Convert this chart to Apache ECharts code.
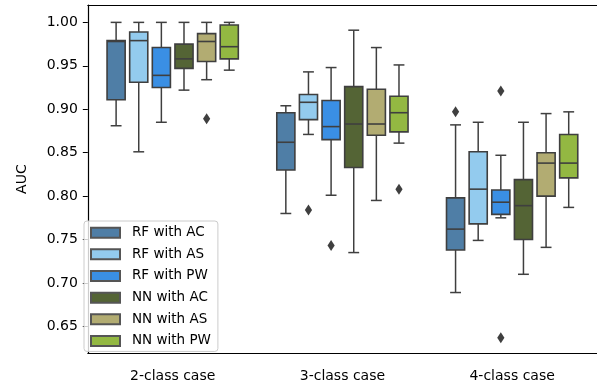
<!DOCTYPE html>
<html>
<head>
    <title>AUC boxplot</title>
    <script src="https://cdn.jsdelivr.net/npm/echarts@6/dist/echarts.min.js"></script>
</head>
<body style="margin:0">
    <div id="chart" style="width: 597px; height: 390px;"></div>
    <script>
        const categories = ['2-class case', '3-class case', '4-class case'];
        const hues = ['RF with AC', 'RF with AS', 'RF with PW', 'NN with AC', 'NN with AS', 'NN with PW'];
        const colors = ['#4f7ea6', '#93cbee', '#3a8fe4', '#546435', '#b2ac72', '#93b842'];
        const yTicks = [0.65, 0.70, 0.75, 0.80, 0.85, 0.90, 0.95, 1.00];

        // [low whisker, Q1, median, Q3, high whisker] per category
        const rfAC = [[0.881, 0.911, 0.978, 0.979, 1.000], [0.780, 0.830, 0.862, 0.896, 0.904], [0.689, 0.738, 0.762, 0.798, 0.882]];
        const rfAS = [[0.851, 0.931, 0.979, 0.989, 1.000], [0.871, 0.888, 0.908, 0.917, 0.943], [0.749, 0.768, 0.808, 0.851, 0.885]];
        const rfPW = [[0.885, 0.925, 0.939, 0.971, 1.000], [0.801, 0.865, 0.880, 0.910, 0.948], [0.775, 0.779, 0.793, 0.807, 0.847]];
        const nnAC = [[0.922, 0.947, 0.958, 0.975, 1.000], [0.735, 0.833, 0.883, 0.926, 0.991], [0.710, 0.750, 0.789, 0.819, 0.885]];
        const nnAS = [[0.934, 0.955, 0.978, 0.987, 1.000], [0.795, 0.870, 0.883, 0.923, 0.971], [0.741, 0.800, 0.838, 0.850, 0.895]];
        const nnPW = [[0.945, 0.958, 0.972, 0.997, 1.000], [0.861, 0.874, 0.896, 0.915, 0.951], [0.787, 0.821, 0.838, 0.871, 0.897]];
        const stats = [rfAC, rfAS, rfPW, nnAC, nnAS, nnPW];

        // outliers: [category index, value, hue index]
        const outliers = [
            [0, 0.889, 4],
            [1, 0.784, 1],
            [1, 0.743, 2],
            [1, 0.808, 5],
            [2, 0.897, 0],
            [2, 0.921, 2],
            [2, 0.637, 2]
        ];

        const edge = '#3f3f3f';
        const font = 'DejaVu Sans';

        function hueX(api, cat, hue) {
            const center = api.coord([cat, 0.8])[0];
            const band = api.size([1, 0])[0];
            const slot = band * 0.8 / hues.length;
            return { cx: center + (hue - (hues.length - 1) / 2) * slot, slot: slot };
        }

        function boxRenderer(hue) {
            return function (params, api) {
                const cat = api.value(0);
                const pos = hueX(api, cat, hue);
                const w = pos.slot * 0.8;
                const cap = w * 0.6;
                const y = i => api.coord([cat, api.value(i)])[1];
                const low = y(1), q1 = y(2), med = y(3), q3 = y(4), high = y(5);
                const line = { stroke: edge, lineWidth: 1.5 };
                return {
                    type: 'group',
                    children: [
                        { type: 'line', shape: { x1: pos.cx, y1: q1, x2: pos.cx, y2: low }, style: line },
                        { type: 'line', shape: { x1: pos.cx, y1: q3, x2: pos.cx, y2: high }, style: line },
                        { type: 'line', shape: { x1: pos.cx - cap / 2, y1: low, x2: pos.cx + cap / 2, y2: low }, style: line },
                        { type: 'line', shape: { x1: pos.cx - cap / 2, y1: high, x2: pos.cx + cap / 2, y2: high }, style: line },
                        { type: 'rect', shape: { x: pos.cx - w / 2, y: q3, width: w, height: q1 - q3 },
                          style: { fill: colors[hue], stroke: edge, lineWidth: 1.6 } },
                        { type: 'line', shape: { x1: pos.cx - w / 2, y1: med, x2: pos.cx + w / 2, y2: med },
                          style: { stroke: edge, lineWidth: 1.6 } }
                    ]
                };
            };
        }

        const series = hues.map((name, h) => ({
            name: name,
            type: 'custom',
            renderItem: boxRenderer(h),
            itemStyle: { color: colors[h], borderColor: '#555', borderWidth: 0.6 },
            encode: { x: 0, y: [1, 2, 3, 4, 5] },
            data: stats[h].map((s, c) => [c].concat(s)),
            silent: true
        }));

        series.push({
            type: 'custom',
            renderItem: function (params, api) {
                const cat = api.value(0);
                const pos = hueX(api, cat, api.value(2));
                const yy = api.coord([cat, api.value(1)])[1];
                return {
                    type: 'polygon',
                    shape: { points: [[pos.cx, yy - 5.5], [pos.cx + 3.6, yy], [pos.cx, yy + 5.5], [pos.cx - 3.6, yy]] },
                    style: { fill: edge }
                };
            },
            encode: { x: 0, y: 1 },
            data: outliers,
            silent: true
        });

        const option = {
            animation: false,
            backgroundColor: '#fff',
            textStyle: { fontFamily: font },
            grid: { left: 77, top: 5, width: 524, bottom: 29.3 },
            legend: {
                data: hues,
                orient: 'vertical',
                left: 84,
                top: 221,
                height: 165,
                icon: 'rect',
                itemWidth: 29,
                itemHeight: 10,
                itemGap: -5.1,
                padding: [-1.7, 7, -2.9, 6],
                borderColor: '#cccccc',
                borderWidth: 1,
                borderRadius: 3,
                backgroundColor: 'rgba(255,255,255,0.8)',
                formatter: name => ' \u2009' + name,
                textStyle: { fontFamily: font, fontSize: 13.5, color: '#000' }
            },
            xAxis: [{
                type: 'category',
                data: categories,
                axisLine: { lineStyle: { color: '#000', width: 1.2 } },
                axisTick: { alignWithLabel: true, length: 5, lineStyle: { color: '#000' } },
                axisLabel: { fontSize: 14, color: '#000', margin: 9, fontFamily: font }
            }, {
                type: 'category',
                data: categories,
                position: 'top',
                axisLine: { lineStyle: { color: '#000', width: 1.2 } },
                axisTick: { show: false },
                axisLabel: { show: false }
            }],
            yAxis: {
                type: 'value',
                min: 0.6191,
                max: 1.02,
                name: 'AUC',
                nameLocation: 'middle',
                nameGap: 50,
                nameTextStyle: { fontSize: 14, color: '#000', fontFamily: font },
                splitLine: { show: false },
                axisLine: { show: true, lineStyle: { color: '#000', width: 1.2 } },
                axisTick: { show: true, length: 5, customValues: yTicks, lineStyle: { color: '#000' } },
                axisLabel: {
                    customValues: yTicks,
                    fontSize: 14, color: '#000', margin: 10, fontFamily: font,
                    formatter: v => v.toFixed(2)
                }
            },
            series: series
        };

        const chart = echarts.init(document.getElementById('chart'));
        chart.setOption(option);
    </script>
</body>
</html>
